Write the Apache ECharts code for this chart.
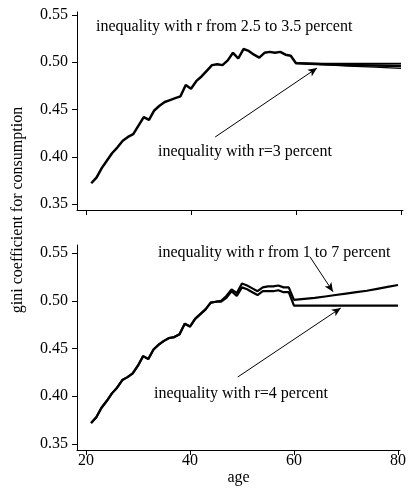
<!DOCTYPE html>
<html>
<head>
<meta charset="utf-8">
<script src="https://cdn.jsdelivr.net/npm/echarts@6/dist/echarts.min.js"></script>
<style>html,body{margin:0;padding:0;background:#fff;}#c{width:409px;height:492px;}</style>
</head>
<body>
<div id="c"></div>
<script>
// ---- data ----
const agesEarly = [21,22,23,24,25,26,27,28,29,30,31,32,33,34,35,36,37,38,39,40,41,42,43,44,45,46,47,48,49,50,51,52,53,54,55,56,57,58,59,60];
const topR3Early = [0.372,0.378,0.388,0.396,0.404,0.410,0.417,0.421,0.424,0.433,0.442,0.439,0.449,0.454,0.458,0.460,0.462,0.464,0.476,0.472,0.480,0.485,0.491,0.497,0.498,0.497,0.502,0.510,0.504,0.514,0.512,0.508,0.505,0.510,0.511,0.510,0.511,0.508,0.507,0.499];
const agesLate = [60,65,70,75,80];
const topR25Late = [0.499,0.4985,0.4985,0.4985,0.4985];
const topR3Late = [0.499,0.4978,0.4970,0.4965,0.4960];
const topR35Late = [0.499,0.4975,0.4960,0.4948,0.4935];

const bottomR4Early = [0.372,0.378,0.388,0.395,0.403,0.409,0.417,0.420,0.424,0.432,0.442,0.439,0.449,0.454,0.458,0.461,0.462,0.465,0.476,0.473,0.481,0.486,0.491,0.498,0.499,0.499,0.503,0.510,0.505,0.514,0.512,0.509,0.506,0.510,0.510,0.510,0.511,0.509,0.509,0.495];
const bottomR17Early = [0.372,0.378,0.388,0.395,0.403,0.409,0.417,0.420,0.424,0.432,0.442,0.439,0.449,0.454,0.458,0.461,0.462,0.465,0.476,0.473,0.481,0.486,0.491,0.498,0.499,0.500,0.505,0.512,0.508,0.518,0.516,0.513,0.510,0.514,0.515,0.515,0.516,0.514,0.514,0.501];
const agesLate2 = [60,62,64,66,68,70,72,74,76,78,80];
const bottomR4Late = [0.495,0.495,0.495,0.495,0.495,0.495,0.495,0.495,0.495,0.495,0.495];
const bottomR17Late = [0.501,0.502,0.503,0.5045,0.506,0.5075,0.509,0.5105,0.5125,0.5145,0.5165];

const xTicks = [20,40,60,80];
const yTicks = [0.35,0.40,0.45,0.50,0.55];

const labelTop = 'inequality with r from 2.5 to 3.5 percent';
const labelTopArrow = 'inequality with r=3 percent';
const labelBottom = 'inequality with r from 1 to 7 percent';
const labelBottomArrow = 'inequality with r=4 percent';
const yName = 'gini coefficient for consumption';
const xName = 'age';

// arrows (data coordinates: [age, gini])
const arrowTop = [[44.6,0.4209],[64.0,0.4939]];
const arrowBottom1 = [[63.1,0.5458],[67.5,0.5095]];
const arrowBottom2 = [[49.2,0.4202],[69.0,0.4924]];

// ---- build ----
const zip = (a,b) => a.map((v,i)=>[v,b[i]]);
const FONT = '"Liberation Serif", "DejaVu Serif", serif';

function xAxis(gi, showLabels){
  return {
    type:'value', gridIndex:gi, min:18.29, max:80.38,
    axisLine:{show:true, onZero:false, lineStyle:{color:'#000', width:1}},
    axisTick:{show:true, inside:false, length:5, customValues:xTicks, lineStyle:{color:'#000'}},
    axisLabel:{show:showLabels, customValues:xTicks, margin:3, color:'#000', fontFamily:FONT, fontSize:16},
    splitLine:{show:false},
    name: showLabels ? xName : '', nameLocation:'middle', nameGap:17,
    nameTextStyle:{color:'#000', fontFamily:FONT, fontSize:16}
  };
}
function yAxis(gi, max){
  return {
    type:'value', gridIndex:gi, min:0.3437, max:max,
    axisLine:{show:true, onZero:false, lineStyle:{color:'#000', width:1}},
    axisTick:{show:true, length:5, customValues:yTicks, lineStyle:{color:'#000'}},
    axisLabel:{customValues:yTicks, margin:9, color:'#000', fontFamily:FONT, fontSize:16, formatter:v=>v.toFixed(2)},
    splitLine:{show:false}
  };
}
function arrowML(pts){
  return {
    silent:true, animation:false, symbol:['none','arrow'], symbolSize:[6,9],
    label:{show:false}, lineStyle:{color:'#000', width:1, type:'solid'},
    emphasis:{disabled:true},
    data:[[{coord:pts[0]},{coord:pts[1]}]]
  };
}
function line(name, gi, data, w, ml){
  const s = {name, type:'line', xAxisIndex:gi, yAxisIndex:gi, data, showSymbol:false, symbol:'none',
    lineStyle:{color:'#000', width:w}, itemStyle:{color:'#000'}, animation:false, z:3};
  if(ml) s.markLine = ml;
  return s;
}
function txt(x,y,t){
  return {type:'text', x, y, style:{text:t, fill:'#000', font:'16px '+FONT, textVerticalAlign:'middle', textAlign:'left'}};
}

const chart = echarts.init(document.getElementById('c'), null, {renderer:'canvas'});
chart.setOption({
  backgroundColor:'#fff',
  animation:false,
  grid:[{left:77, right:6, top:12, height:198}, {left:77, right:6, top:245, height:205}],
  xAxis:[xAxis(0,false), xAxis(1,true)],
  yAxis:[yAxis(0,0.5532), yAxis(1,0.5584)],
  series:[
    line('r=3', 0, zip(agesEarly, topR3Early).concat(zip(agesLate, topR3Late)), 2.5, arrowML(arrowTop)),
    line('r=2.5', 0, zip(agesLate, topR25Late), 1.8),
    line('r=3.5', 0, zip(agesLate, topR35Late), 1.3),
    line('r=4', 1, zip(agesEarly, bottomR4Early).concat(zip(agesLate2, bottomR4Late)), 2.2, arrowML(arrowBottom2)),
    line('r=1..7', 1, zip(agesEarly, bottomR17Early).concat(zip(agesLate2, bottomR17Late)), 2.2, arrowML(arrowBottom1))
  ],
  graphic:[
    txt(96, 27, labelTop),
    txt(158, 152, labelTopArrow),
    txt(158, 253, labelBottom),
    txt(154, 394, labelBottomArrow),
    {type:'text', x:18, y:210, rotation:Math.PI/2,
     style:{text:yName, fill:'#000', font:'16px '+FONT, textAlign:'center', textVerticalAlign:'middle'}}
  ]
});
</script>
</body>
</html>
